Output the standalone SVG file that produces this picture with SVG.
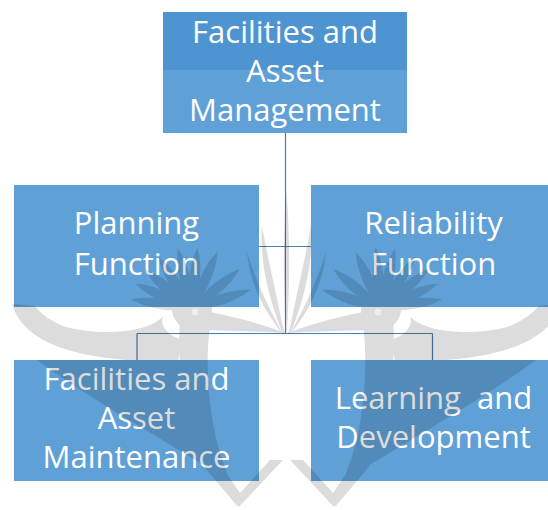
<svg xmlns="http://www.w3.org/2000/svg" width="548" height="510" viewBox="0 0 548 510">
  <style>
    .box { fill: #5fa0d7; }
    .band { fill: #4e94d1; }
    .label { font-family: "Open Sans", "Liberation Sans", sans-serif; font-size: 31px; fill: #ffffff; text-anchor: middle; white-space: pre; }
    .link { stroke: #4a7eb0; stroke-width: 1.2; fill: none; }
  </style>
  <defs>
    <!-- one crest feather, pointing straight up from its base -->
    <path id="feather" d="M0,0 C-7,-18 -7,-44 0,-62 C7,-44 7,-18 0,0 Z"/>
    <!-- left half of the emblem; the right half is its mirror image -->
    <g id="half">
      <!-- crest -->
      <g transform="translate(192,309)">
        <use href="#feather" transform="rotate(-81)"/>
        <use href="#feather" transform="rotate(-66)"/>
        <use href="#feather" transform="rotate(-50)"/>
        <use href="#feather" transform="rotate(-33)"/>
        <use href="#feather" transform="rotate(-13)"/>
        <use href="#feather" transform="rotate(5)"/>
        <use href="#feather" transform="rotate(24)"/>
        <use href="#feather" transform="rotate(50)"/>
        <use href="#feather" transform="rotate(72)"/>
        <circle r="20"/>
      </g>
      <!-- head and beak -->
      <ellipse cx="194" cy="318" rx="17" ry="13"/>
      <path d="M200,310 Q245,318 286,333 Q245,331 200,330 Z"/>
      <!-- upper wing crescent -->
      <path d="M12,304 C24,344 78,362 178,362 L182,340 C165,334 160,324 163,316 C150,333 100,336 66,327 C50,321 40,313 35,306 Z"/>
      <!-- lower wing -->
      <path d="M37,360 L200,360 L205,466 C150,432 80,392 37,360 Z"/>
      <!-- neck and body -->
      <path d="M180,318 C177,360 182,420 205,468 L238,507 L226,470 C210,430 204,370 210,325 Z"/>
      <!-- tail -->
      <path d="M205,458 L239,507 L283,460 L270,460 L240,493 L216,458 Z"/>
      <!-- spikes of the open book -->
      <path d="M262,226 C262,260 272,300 284,334 C278,300 268,260 262,226 Z"/>
      <path d="M262,226 C259,262 270,302 283,334 L285,334 C274,300 266,262 262,226 Z"/>
      <path d="M247,252 C250,285 266,314 283,334 C270,310 256,282 247,252 Z"/>
      <path d="M286.5,190 C283,240 283,290 286.5,336 Z"/>
    </g>
  </defs>

  <!-- org chart connectors -->
  <g id="connectors">
    <line class="link" x1="285.5" y1="133" x2="285.5" y2="333.5"/>
    <line class="link" x1="137" y1="333.5" x2="432.5" y2="333.5"/>
    <line class="link" x1="137" y1="333.5" x2="137" y2="360"/>
    <line class="link" x1="432.5" y1="333.5" x2="432.5" y2="360"/>
    <line class="link" x1="259" y1="246.5" x2="311" y2="246.5"/>
  </g>

  <g id="node-management">
    <rect class="box" x="163" y="12" width="244" height="121"/>
    <rect class="band" x="163" y="12" width="244" height="58"/>
    <text class="label" x="285" y="43">Facilities and</text>
    <text class="label" x="285" y="82">Asset</text>
    <text class="label" x="285" y="121">Management</text>
  </g>

  <g id="node-planning">
    <rect class="box" x="14" y="185" width="245" height="122"/>
    <text class="label" x="136.5" y="234">Planning</text>
    <text class="label" x="136.5" y="275">Function</text>
  </g>

  <g id="node-reliability">
    <rect class="box" x="311" y="185" width="245" height="122"/>
    <text class="label" x="433.5" y="234">Reliability</text>
    <text class="label" x="433.5" y="275">Function</text>
  </g>

  <g id="node-maintenance">
    <rect class="box" x="14" y="360" width="245" height="121"/>
    <text class="label" x="136.5" y="390">Facilities and</text>
    <text class="label" x="136.5" y="429">Asset</text>
    <text class="label" x="136.5" y="468">Maintenance</text>
  </g>

  <g id="node-learning">
    <rect class="box" x="311" y="360" width="245" height="121"/>
    <text class="label" x="433.5" y="409">Learning  and</text>
    <text class="label" x="433.5" y="448">Development</text>
  </g>

  <!-- faint emblem laid over the chart -->
  <g id="emblem" opacity="0.14" fill="#000">
    <use href="#half"/>
    <use href="#half" transform="translate(573,0) scale(-1,1)"/>
  </g>
  <g id="eyes" fill="#ffffff" opacity="0.5">
    <circle cx="195" cy="312" r="3.5"/>
    <circle cx="378" cy="312" r="3.5"/>
  </g>
</svg>
